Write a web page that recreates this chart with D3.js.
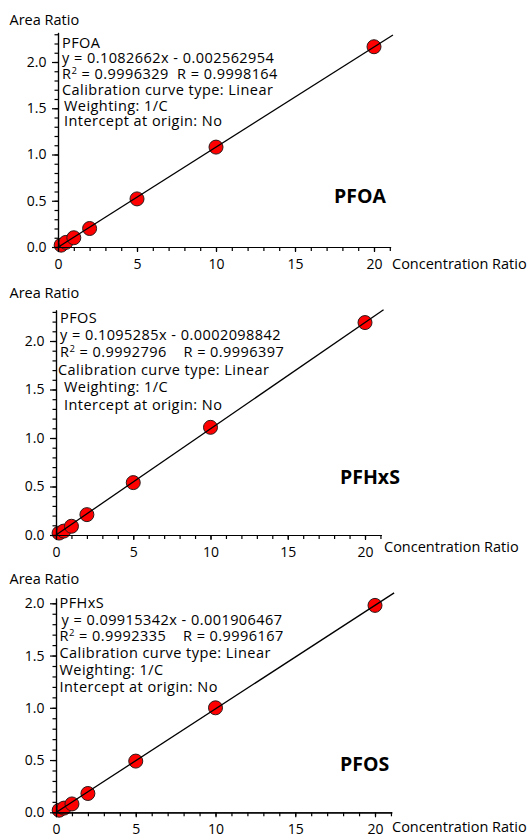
<!DOCTYPE html>
<html>
<head>
<meta charset="utf-8">
<script src="https://cdn.jsdelivr.net/npm/d3@7"></script>
<style>
  body { margin: 0; background: #fff; }
  svg { display: block; font-family: "Open Sans", sans-serif; }
  text { white-space: pre; }
</style>
</head>
<body>
<svg id="chart" width="527" height="834"></svg>
<script>
// values (top, middle, bottom)
var concentrations = [0.2, 0.5, 1, 2, 5, 10, 20];
var ratiosTop = [0.02, 0.05, 0.10, 0.20, 0.52, 1.08, 2.165];
var ratiosMiddle = [0.02, 0.04, 0.09, 0.21, 0.54, 1.11, 2.19];
var ratiosBottom = [0.02, 0.04, 0.08, 0.18, 0.49, 1.00, 1.98];

var slopes = [0.1082662, 0.1095285, 0.09915342];
var intercepts = [-0.002562954, -0.0002098842, -0.001906467];

var infoNames = ["PFOA", "PFOS", "PFHxS"];      // name printed in the info block
var boldNames = ["PFOA", "PFHxS", "PFOS"];      // big bold label inside each panel
var equations = ["y = 0.1082662x - 0.002562954", "y = 0.1095285x - 0.0002098842", "y = 0.09915342x - 0.001906467"];
var r2Values = ["0.9996329", "0.9992796", "0.9992335"];
var rValues = ["0.9998164", "0.9996397", "0.9996167"];
var rGaps = ["  ", "    ", "    "];
var curveType = "Calibration curve type: Linear";
var weighting = "Weighting: 1/C";
var interceptText = "Intercept at origin: No";

var xTickValues = [0, 5, 10, 15, 20];
var yTickValues = [0, 0.5, 1.0, 1.5, 2.0];
var xMax = 21.05;
var lineEnd = 21.2;

// each panel is a separate screenshot, so each gets its own placement
var layout = [
    { x0: 58, xUnit: 15.8,  y0: 247,   yUnit: 92.5,  yMax: 2.32,
      areaY: 25,  concX: 392, concY: 269,
      textX: 62, textY: 47.7, gap: 15.7, indents: [0, 0, 0, 0, 2, 2],
      boldX: 334, boldY: 203 },
    { x0: 56, xUnit: 15.45, y0: 535,   yUnit: 97,    yMax: 2.32,
      areaY: 298, concX: 384, concY: 552,
      textX: 60, textY: 322.5, gap: 17.4, indents: [0, 0, 0, -2, 4, 4],
      boldX: 340, boldY: 484 },
    { x0: 56, xUnit: 15.95, y0: 812.3, yUnit: 104.5, yMax: 2.05,
      areaY: 584, concX: 392, concY: 832,
      textX: 59.5, textY: 608, gap: 16.7, indents: [0, 2, 0, 0, 0, 0],
      boldX: 340, boldY: 771 }
];

var allRatios = [ratiosTop, ratiosMiddle, ratiosBottom];
var svg = d3.select('#chart');

function drawPanel(i) {
    var L = layout[i];
    var ratios = allRatios[i];
    var g = svg.append('g');

    var x = d3.scaleLinear()
        .domain([0, xMax])
        .range([L.x0, L.x0 + xMax * L.xUnit]);
    var y = d3.scaleLinear()
        .domain([0, L.yMax])
        .range([L.y0, L.y0 - L.yMax * L.yUnit]);

    // points
    var pts = concentrations.map(function (c, k) { return [c, ratios[k]]; });
    g.selectAll('circle')
        .data(pts)
        .enter().append('circle')
        .attr('cx', function (d) { return x(d[0]); })
        .attr('cy', function (d) { return y(d[1]); })
        .attr('r', 7)
        .attr('fill', '#ff0000')
        .attr('stroke', '#2a1a1a')
        .attr('stroke-width', 1);

    // fitted line from the printed equation
    var fit = [0, lineEnd].map(function (c) { return [c, slopes[i] * c + intercepts[i]]; });
    g.append('path')
        .datum(fit)
        .attr('d', d3.line().x(function (d) { return x(d[0]); }).y(function (d) { return y(d[1]); }))
        .attr('stroke', '#000')
        .attr('stroke-width', 1.3)
        .attr('fill', 'none');

    // x axis: minor ticks every 1, labelled every 5
    var xMinor = g.append('g')
        .attr('transform', 'translate(0,' + L.y0 + ')')
        .call(d3.axisBottom(x).tickValues(d3.range(0, 22, 1)).tickSize(4).tickSizeOuter(0).tickFormat(''));
    var xMajor = g.append('g')
        .attr('transform', 'translate(0,' + L.y0 + ')')
        .call(d3.axisBottom(x).tickValues(xTickValues).tickSize(5).tickSizeOuter(0).tickPadding(7).tickFormat(d3.format('d')));

    // y axis: minor ticks every 0.1
    var yMinor = g.append('g')
        .attr('transform', 'translate(' + L.x0 + ',0)')
        .call(d3.axisLeft(y).tickValues(d3.range(0, L.yMax + 0.001, 0.1)).tickSize(3.5).tickSizeOuter(0).tickFormat(''));
    var yMajor = g.append('g')
        .attr('transform', 'translate(' + L.x0 + ',0)')
        .call(d3.axisLeft(y).tickValues(yTickValues).tickSize(6).tickSizeOuter(0).tickPadding(5.5).tickFormat(d3.format('.1f')));

    [xMinor, xMajor, yMinor, yMajor].forEach(function (a) {
        a.selectAll('path, line').attr('stroke', '#000').attr('stroke-width', 1.2);
        a.selectAll('text').attr('fill', '#000').style('font-size', '14px').style('font-family', '"Open Sans", sans-serif');
    });

    // axis titles
    g.append('text')
        .attr('x', 9.5).attr('y', L.areaY)
        .style('font-size', '14.5px')
        .text('Area Ratio');
    g.append('text')
        .attr('x', L.concX).attr('y', L.concY)
        .style('font-size', '14.5px')
        .text('Concentration Ratio');

    // info block
    var lines = [infoNames[i], equations[i], null, curveType, weighting, interceptText];
    lines.forEach(function (s, k) {
        var t = g.append('text')
            .attr('x', L.textX + L.indents[k])
            .attr('y', L.textY + k * L.gap)
            .style('font-size', '14.5px')
            .style('letter-spacing', '0.45px');
        if (s === null) {
            t.append('tspan').text('R');
            t.append('tspan').attr('dy', -5.5).style('font-size', '9.5px').text('2');
            t.append('tspan').attr('dy', 5.5).text(' = ' + r2Values[i] + rGaps[i] + 'R = ' + rValues[i]);
        } else {
            t.text(s);
        }
    });

    g.append('text')
        .attr('x', L.boldX).attr('y', L.boldY)
        .style('font-size', '19.5px')
        .style('font-weight', 'bold')
        .text(boldNames[i]);
}

for (var i = 0; i < 3; i++) {
    drawPanel(i);
}
</script>
</body>
</html>
